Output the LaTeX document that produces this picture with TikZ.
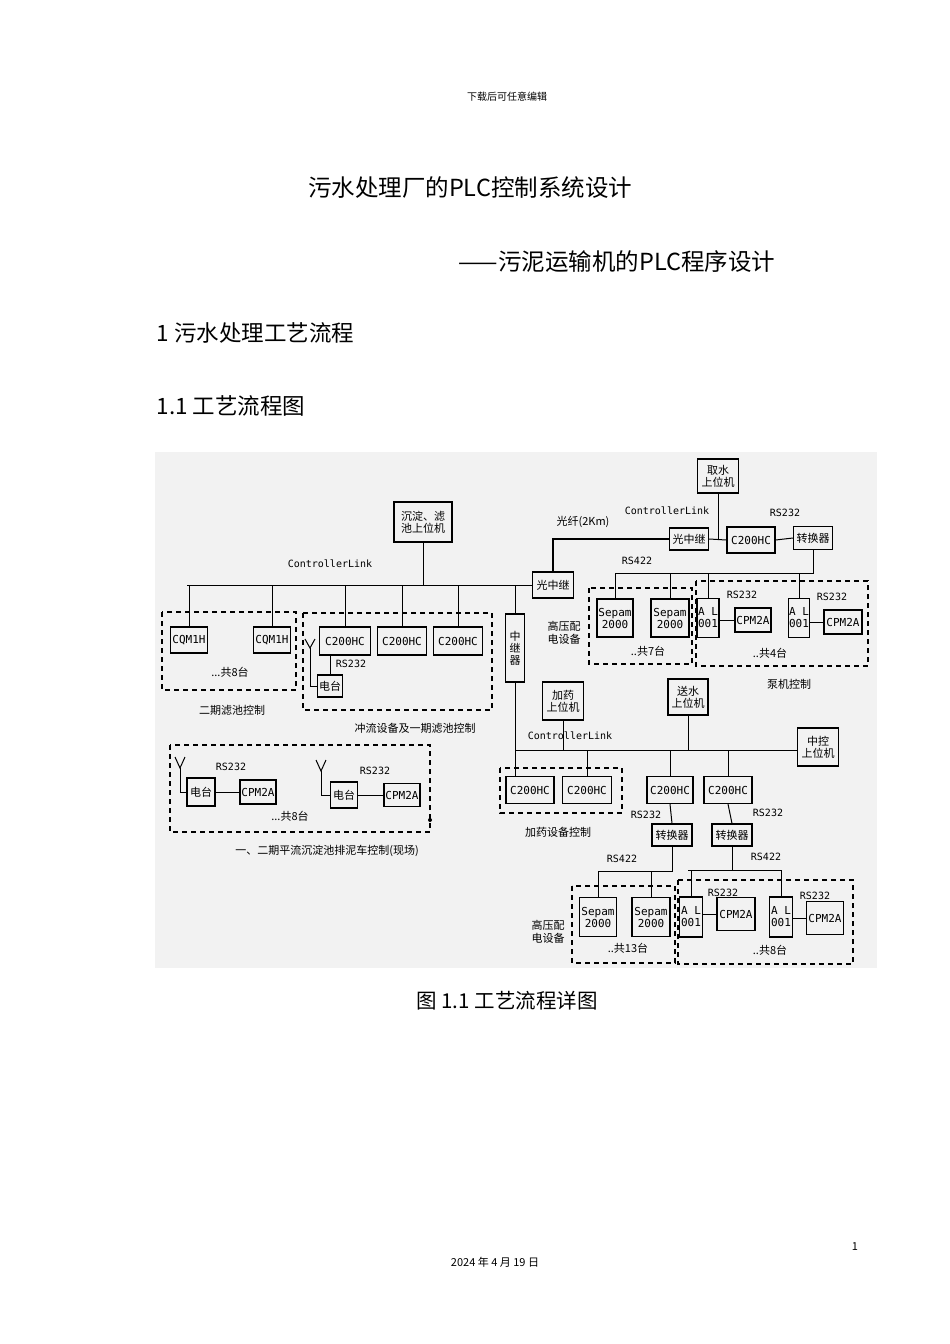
\documentclass[tikz,border=0pt]{standalone}
\usepackage{fontspec}
\setmainfont{Noto Sans CJK SC}
\newfontfamily\cjk{Noto Sans CJK SC}
\newfontfamily\mono{DejaVu Sans Mono}
\begin{document}
\begin{tikzpicture}[x=1pt,y=-1pt,
  bx/.style={draw,line width=1.1pt,inner sep=0pt,font=\fontsize{11}{12}\selectfont\cjk,align=center},
  lb/.style={inner sep=0pt,font=\fontsize{11}{12.5}\selectfont\cjk,align=center},
  ml/.style={inner sep=0pt,font=\fontsize{10}{11}\selectfont\mono},
  ln/.style={line width=1pt},
  grp/.style={draw,dashed,line width=1.1pt,dash pattern=on 5pt off 4pt},
  ant/.style={line width=1pt}]
\useasboundingbox (0,0) rectangle (950,1344);
\node[font=\fontsize{10}{12}\selectfont] (hdr) at (507,97) {下载后可任意编辑};
\node[font=\fontsize{23.5}{26}\selectfont] (t1) at (470,188) {污水处理厂的PLC控制系统设计};
\node[font=\fontsize{23.5}{26}\selectfont] (t2) at (617,262) {——污泥运输机的PLC程序设计};
\node[font=\fontsize{22.5}{25}\selectfont,anchor=west] (h1) at (153,333) {1 污水处理工艺流程};
\node[font=\fontsize{22.5}{25}\selectfont,anchor=west] (h2) at (153,406) {1.1 工艺流程图};
\node[font=\fontsize{20.5}{23}\selectfont] (cap) at (507,1001) {图 1.1 工艺流程详图};
\node[font=\fontsize{11}{12}\selectfont] (pg) at (855,1247) {1};
\node[font=\fontsize{11}{12}\selectfont] (dt) at (495,1262) {2024 年 4 月 19 日};
\fill[gray!10] (155,452) rectangle (877,968);
% ---- upper left
\node[bx,minimum width=58,minimum height=40] (sed) at (423,522) {沉淀、滤\\池上位机};
\node[ml] (cl1) at (330,564) {ControllerLink};
\coordinate (busL) at (187,585);
\node[bx,minimum width=41,minimum height=26] (gz1) at (553,585) {光中继};
\draw[ln] (busL) -- (gz1.west);
\draw[ln] (sed.south) -- (sed.south |- busL);
\node[bx,minimum width=37,minimum height=26] (cq1) at (189,640) {\mono CQM1H};
\node[bx,minimum width=37,minimum height=26] (cq2) at (272,640) {\mono CQM1H};
\node[bx,minimum width=51,minimum height=28] (ca1) at (345,641) {\mono C200HC};
\node[bx,minimum width=49,minimum height=28] (ca2) at (402,641) {\mono C200HC};
\node[bx,minimum width=49,minimum height=28] (ca3) at (458,641) {\mono C200HC};
\foreach \n in {cq1,cq2,ca1,ca2,ca3} \draw[ln] (\n.north) -- (\n.north |- busL);
\draw[grp] (162,612) rectangle (296,690);
\node[lb] (n8a) at (230,672) {...共8台};
\node[lb] (g2) at (232,710) {二期滤池控制};
\draw[grp] (303,613) rectangle (492,710);
\node[bx,minimum width=25,minimum height=22] (dt1) at (330,686) {电台};
\draw[ln] (dt1.north) -- (dt1.north |- ca1.south);
\node[ml] (r1) at (351,664) {RS232};
\coordinate (an1) at (310,648);
\draw[ant] (305,639) -- (an1) -- (315,639);
\draw[ant] (an1) |- (dt1.west);
\node[lb] (g1) at (415,728) {冲流设备及一期滤池控制};
\node[bx,minimum width=19,minimum height=68] (zjq) at (515,648) {中\\继\\器};
\draw[ln] (zjq.north) -- (zjq.north |- busL);
% ---- upper right
\node[bx,minimum width=41,minimum height=34] (qs) at (718,476) {取水\\上位机};
\node[bx,minimum width=39,minimum height=22] (gz2) at (689,539) {光中继};
\node[bx,minimum width=48,minimum height=26] (cb) at (751,540) {\mono C200HC};
\node[bx,minimum width=39,minimum height=23] (zh1) at (813,538) {转换器};
\node[ml] (cl2) at (667,511) {ControllerLink};
\node[lb] (gx) at (583,522) {光纤(2Km)};
\draw[line width=2.6pt] (gz1.north) |- (gz2.west);
\draw[ln] (gz2.east) -- (cb.west);
\draw[ln] (qs.south) -- (qs.south |- gz2.east);
\draw[ln] (cb.east) -- (zh1.west);
\node[ml] (r2) at (785,513) {RS232};
\node[ml] (r3) at (637,561) {RS422};
\node[bx,minimum width=36,minimum height=38] (sp1) at (615,618) {\mono Sepam\\\mono 2000};
\node[bx,minimum width=38,minimum height=38] (sp2) at (670,618) {\mono Sepam\\\mono 2000};
\node[bx,minimum width=22,minimum height=39] (al1) at (708,618) {\mono A L\\\mono 001};
\node[bx,minimum width=21,minimum height=39] (al2) at (799,618) {\mono A L\\\mono 001};
\node[bx,minimum width=36,minimum height=24] (cp1) at (753,620) {\mono CPM2A};
\node[bx,minimum width=38,minimum height=24] (cp2) at (843,622) {\mono CPM2A};
\coordinate (b4) at (615,573);
\draw[ln] (zh1.south) |- (b4);
\foreach \n in {sp1,sp2,al1,al2} \draw[ln] (\n.north) -- (\n.north |- b4);
\draw[ln] (al1.east |- cp1) -- (cp1.west);
\draw[ln] (al2.east |- cp2) -- (cp2.west);
\node[ml] (r4) at (742,595) {RS232};
\node[ml] (r5) at (832,597) {RS232};
\draw[grp] (589,588) rectangle (692,664);
\draw[grp] (696,581) rectangle (868,666);
\node[lb] (n7) at (648,651) {..共7台};
\node[lb] (n4) at (770,653) {..共4台};
\node[lb] (gy1) at (564,633) {高压配\\电设备};
\node[lb] (bj) at (789,684) {泵机控制};
% ---- lower left
\draw[grp] (170,745) rectangle (430,832);
\node[bx,minimum width=28,minimum height=28] (dt2) at (201,792) {电台};
\node[bx,minimum width=36,minimum height=24] (cp3) at (258,792) {\mono CPM2A};
\node[bx,minimum width=27,minimum height=26] (dt3) at (344,795) {电台};
\node[bx,minimum width=36,minimum height=23] (cp4) at (402,795) {\mono CPM2A};
\draw[ln] (dt2.east) -- (cp3.west);
\draw[ln] (dt3.east) -- (cp4.west);
\coordinate (an2) at (180,768);
\draw[ant] (175,757) -- (an2) -- (185,757);
\draw[ant] (an2) |- (dt2.west);
\coordinate (an3) at (321,771);
\draw[ant] (316,760) -- (an3) -- (326,760);
\draw[ant] (an3) |- (dt3.west);
\node[ml] (r6) at (231,767) {RS232};
\node[ml] (r7) at (375,771) {RS232};
\node[lb] (n8b) at (290,816) {...共8台};
\fill (430,820) circle (2pt);
\node[lb] (pl) at (327,851) {一、二期平流沉淀池排泥车控制(现场)};
% ---- lower right
\node[bx,minimum width=41,minimum height=38] (jy) at (563,701) {加药\\上位机};
\node[bx,minimum width=40,minimum height=36] (ss) at (688,697) {送水\\上位机};
\node[bx,minimum width=41,minimum height=38] (zk) at (818,747) {中控\\上位机};
\coordinate (busB) at (516,750);
\draw[ln] (busB) -- (zk.west |- busB);
\node[ml] (cl3) at (570,736) {ControllerLink};
\draw[ln] (jy.south) -- (jy.south |- busB);
\draw[ln] (ss.south) -- (ss.south |- busB);
\node[bx,minimum width=48,minimum height=27] (cc1) at (530,790) {\mono C200HC};
\node[bx,minimum width=49,minimum height=27] (cc2) at (587,790) {\mono C200HC};
\node[bx,minimum width=46,minimum height=27] (cc3) at (670,790) {\mono C200HC};
\node[bx,minimum width=48,minimum height=27] (cc4) at (728,790) {\mono C200HC};
\draw[ln] (zjq.south) -- (zjq.south |- cc1.north);
\foreach \n in {cc2,cc3,cc4} \draw[ln] (\n.north) -- (\n.north |- busB);
\draw[grp] (500,768) rectangle (622,813);
\node[lb] (jyk) at (558,832) {加药设备控制};
\node[ml] (r8) at (646,815) {RS232};
\node[ml] (r9) at (768,813) {RS232};
\node[bx,minimum width=40,minimum height=22] (zh2) at (672,835) {转换器};
\node[bx,minimum width=40,minimum height=22] (zh3) at (732,835) {转换器};
\draw[ln] (cc3.south) -- (zh2.north);
\draw[ln] (cc4.south) -- (zh3.north);
\node[ml] (r10) at (622,859) {RS422};
\node[ml] (r11) at (766,857) {RS422};
\node[bx,minimum width=37,minimum height=39] (sp3) at (598,917) {\mono Sepam\\\mono 2000};
\node[bx,minimum width=38,minimum height=39] (sp4) at (651,917) {\mono Sepam\\\mono 2000};
\node[bx,minimum width=23,minimum height=40] (al3) at (691,917) {\mono A L\\\mono 001};
\node[bx,minimum width=23,minimum height=40] (al4) at (781,917) {\mono A L\\\mono 001};
\node[bx,minimum width=38,minimum height=33] (cp5) at (736,914) {\mono CPM2A};
\node[bx,minimum width=37,minimum height=33] (cp6) at (825,918) {\mono CPM2A};
\coordinate (b5) at (598,871);
\coordinate (b6) at (688,870);
\draw[ln] (zh2.south) |- (b5);
\draw[ln] (zh3.south) |- (b6) -- (b6 -| al4.north);
\draw[ln] (b5) -- (sp3.north);
\draw[ln] (sp4.north) -- (sp4.north |- b5);
\draw[ln] (al3.north) -- (al3.north |- b6);
\draw[ln] (al4.north) -- (al4.north |- b6);
\draw[ln] (al3.east |- cp5) -- (cp5.west);
\draw[ln] (al4.east |- cp6) -- (cp6.west);
\node[ml] (r12) at (723,893) {RS232};
\node[ml] (r13) at (815,896) {RS232};
\draw[grp] (572,886) rectangle (675,963);
\draw[grp] (678,880) rectangle (853,964);
\node[lb] (n13) at (628,948) {..共13台};
\node[lb] (n8c) at (770,950) {..共8台};
\node[lb] (gy2) at (548,932) {高压配\\电设备};
\end{tikzpicture}
\end{document}
